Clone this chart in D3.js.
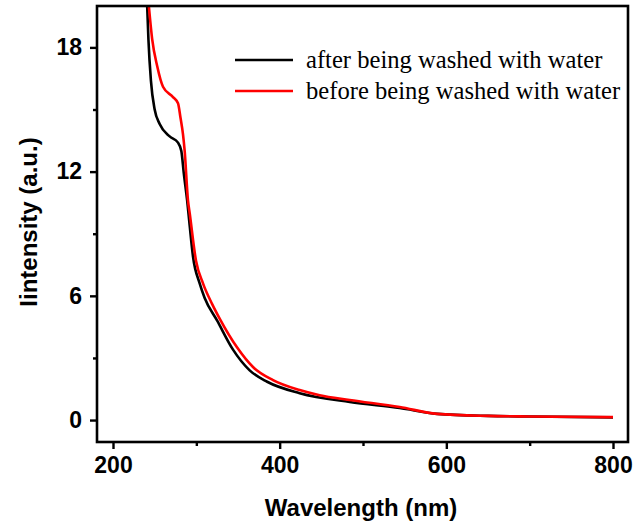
<!DOCTYPE html>
<html><head><meta charset="UTF-8">
<script src="https://cdn.jsdelivr.net/npm/d3@7"></script>
<style>
  body { margin: 0; background: #fff; }
  .tick text { font-family: "Liberation Sans", Arial, sans-serif; font-weight: bold; font-size: 23px; }
  .title { font-family: "Liberation Sans", Arial, sans-serif; font-weight: bold; font-size: 24px; }
  .legend { font-family: "Liberation Serif", "Times New Roman", serif; font-size: 24.6px; }
</style>
</head>
<body>
<svg id="chart" width="635" height="526"></svg>
<script>
// spectra
const afterWl  = [241, 242.5, 245.5, 250, 256, 268, 278, 282, 285, 289, 292, 296, 304, 310, 325, 344, 364, 385, 424, 484, 544, 589, 650, 700, 800];
const afterInt = [20.0, 18.4, 16.4, 15.0, 14.3, 13.7, 13.4, 13.0, 11.9, 10.6, 9.4, 7.9, 6.6, 5.9, 4.8, 3.4, 2.4, 1.85, 1.3, 0.87, 0.58, 0.3, 0.2, 0.17, 0.13];
const beforeWl  = [243, 247, 253, 260, 272, 278, 281, 284, 286, 290, 292, 299.6, 308, 319, 328, 349, 368, 392, 424, 448, 484, 544, 589, 650, 700, 800];
const beforeInt = [20.0, 18.4, 17.1, 16.1, 15.6, 15.3, 14.6, 13.8, 13.0, 10.6, 10.0, 7.7, 6.6, 5.6, 4.9, 3.5, 2.56, 1.93, 1.45, 1.2, 0.97, 0.63, 0.3, 0.2, 0.17, 0.14];
const xTicks = [200, 400, 600, 800];
const xMinor = [300, 500, 700];
const yTicks = [0, 6, 12, 18];
const yMinor = [3, 9, 15];
const labels = ["after being washed with water", "before being washed with water"];
const colors = ["#000000", "#ff0000"];

const svg = d3.select("#chart");
const m = { left: 97, right: 628, top: 6, bottom: 442 };

const x = d3.scaleLinear().domain([180.8, 818]).range([m.left, m.right]);
const y = d3.scaleLinear().domain([-1.06, 20]).range([m.bottom, m.top]);

svg.append("clipPath").attr("id", "clip")
  .append("rect").attr("x", m.left).attr("y", m.top)
  .attr("width", m.right - m.left).attr("height", m.bottom - m.top);

const line = d3.line().x(d => x(d[0])).y(d => y(d[1])).curve(d3.curveMonotoneX);

const series = [
  d3.zip(afterWl, afterInt),
  d3.zip(beforeWl, beforeInt)
];

const g = svg.append("g").attr("clip-path", "url(#clip)");
series.forEach((s, i) => {
  g.append("path").datum(s)
    .attr("d", line)
    .attr("fill", "none")
    .attr("stroke", colors[i])
    .attr("stroke-width", 2.6);
});

// frame
svg.append("rect")
  .attr("x", m.left).attr("y", m.top)
  .attr("width", m.right - m.left).attr("height", m.bottom - m.top)
  .attr("fill", "none").attr("stroke", "#000").attr("stroke-width", 2.6);

// axes
const xAxis = svg.append("g").attr("transform", `translate(0,${m.bottom})`)
  .call(d3.axisBottom(x).tickValues(xTicks).tickSize(7).tickPadding(8));
const xAxisMinor = svg.append("g").attr("transform", `translate(0,${m.bottom})`)
  .call(d3.axisBottom(x).tickValues(xMinor).tickSize(4).tickFormat(""));
const yAxis = svg.append("g").attr("transform", `translate(${m.left},0)`)
  .call(d3.axisLeft(y).tickValues(yTicks).tickSize(7).tickPadding(8));
const yAxisMinor = svg.append("g").attr("transform", `translate(${m.left},0)`)
  .call(d3.axisLeft(y).tickValues(yMinor).tickSize(4).tickFormat(""));

[xAxis, xAxisMinor, yAxis, yAxisMinor].forEach(a => {
  a.select(".domain").remove();
  a.selectAll(".tick line").attr("stroke", "#000").attr("stroke-width", 2.4);
  a.selectAll(".tick text").attr("fill", "#000");
});

svg.append("text").attr("class", "title")
  .attr("x", 361).attr("y", 516).attr("text-anchor", "middle")
  .text("Wavelength (nm)");

svg.append("text").attr("class", "title")
  .attr("transform", "translate(37,222) rotate(-90)")
  .attr("text-anchor", "middle")
  .text("Iintensity (a.u.)");

// legend
labels.forEach((t, i) => {
  const ly = 60 + i * 31;
  svg.append("line").attr("x1", 235).attr("x2", 293).attr("y1", ly).attr("y2", ly)
    .attr("stroke", colors[i]).attr("stroke-width", 2.6);
  svg.append("text").attr("class", "legend")
    .attr("x", 306).attr("y", ly + 8).text(t);
});
</script>
</body></html>
